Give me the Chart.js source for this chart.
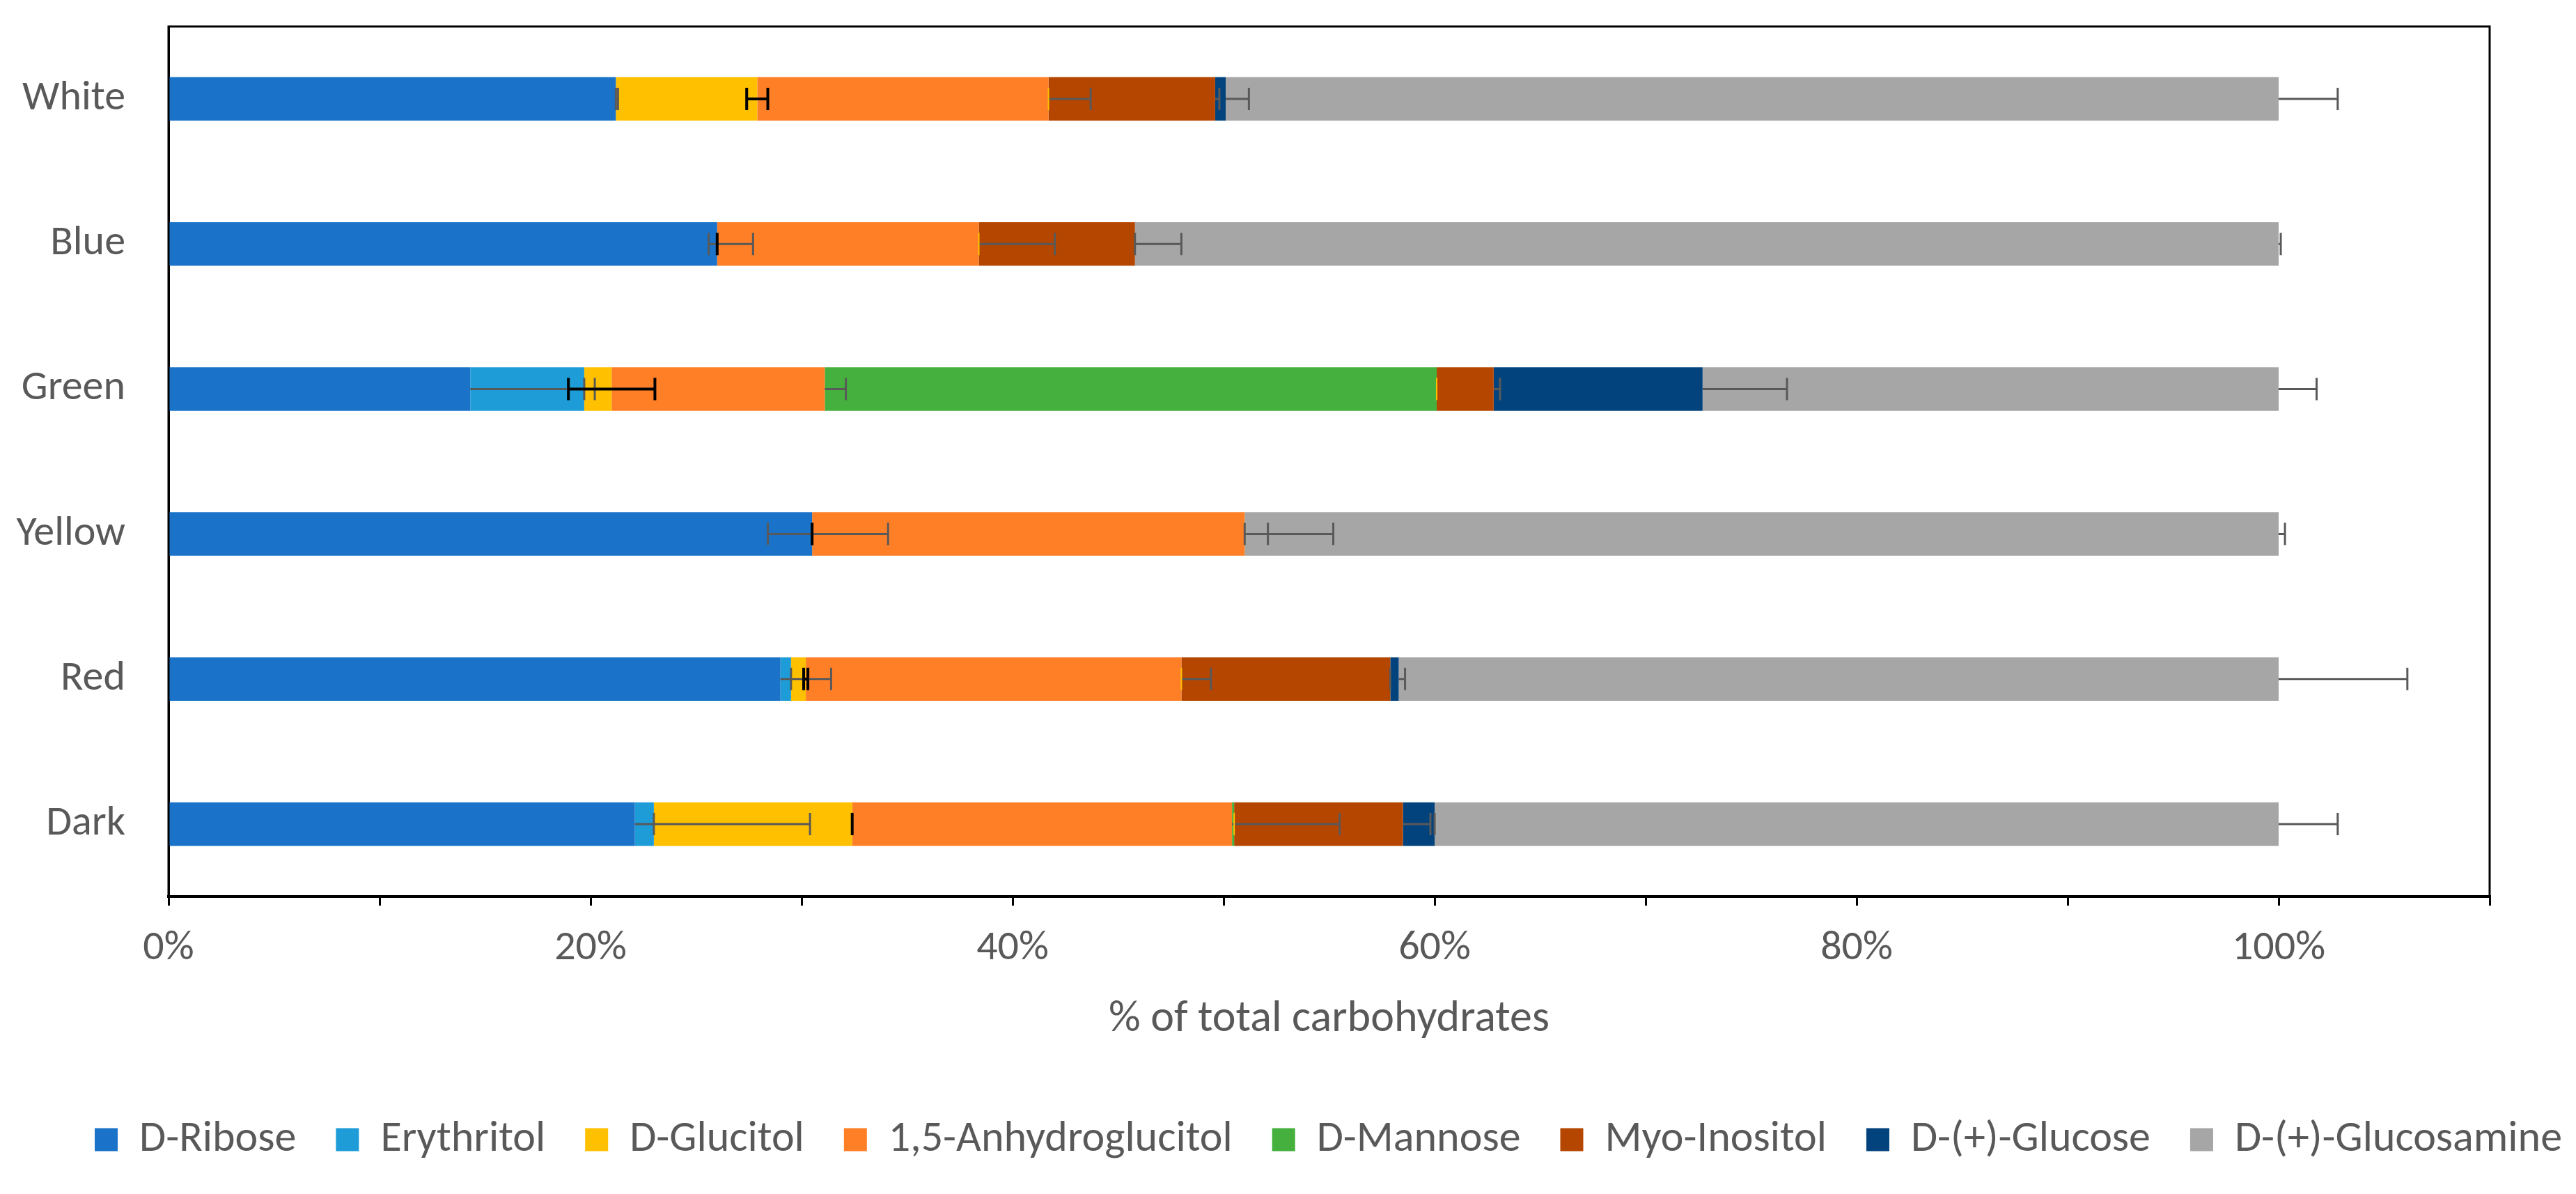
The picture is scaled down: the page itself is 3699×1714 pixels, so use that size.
<!DOCTYPE html>
<html>
<head>
<meta charset="utf-8">
<script src="https://cdn.jsdelivr.net/npm/chart.js@4"></script>
<style>
  html, body { margin: 0; padding: 0; background: #fff; }
  #wrap { width: 3699px; height: 1714px; position: relative; }
</style>
</head>
<body>
<div id="wrap"><canvas id="chart"></canvas></div>
<script>
// ============================
// Data (% of total carbohydrates)
// ============================
const categories = ["White", "Blue", "Green", "Yellow", "Red", "Dark"];

const ribose      = [21.2, 26.0, 14.3, 30.5, 29.0, 22.1];
const erythritol  = [0, 0, 5.4, 0, 0.5, 0.9];
const glucitol    = [6.7, 0, 1.3, 0, 0.7, 9.4];
const anhydro     = [13.8, 12.4, 10.1, 20.5, 17.8, 18.0];
const mannose     = [0, 0, 29.0, 0, 0, 0.1];
const myoInositol = [7.9, 7.4, 2.7, 0, 9.9, 8.0];
const glucose     = [0.5, 0, 9.9, 0, 0.4, 1.5];
const glucosamine = [49.9, 54.2, 27.3, 49.0, 41.7, 40.0];

// error bars (plus side, minus side)
const riboseErr       = [0.1, 1.7, 5.9, 3.6, 2.4, 8.3];
const riboseErrMinus  = [0, 0.4, 0, 2.1, 0, 0];
const erythritolErr   = [0, 0, 0, 0, 0, 0];
const glucitolErr     = [0.5, 0, 2.05, 0, 0.1, 0];
const anhydroErr      = [2.0, 3.6, 1.0, 4.2, 1.4, 5.1];
const mannoseErr      = [0, 0, 0, 0, 0, 0];
const myoInositolErr  = [0.2, 2.2, 0.3, 1.1, 0, 1.3];
const glucoseErr      = [1.1, 0, 4.0, 0, 0.3, 0];
const glucosamineErr  = [2.8, 0.1, 1.8, 0.3, 6.1, 2.8];

const xTicks = [0, 20, 40, 60, 80, 100];

// ============================
// Series setup
// ============================
const FONT = "Carlito, 'Liberation Sans Narrow', 'Open Sans', sans-serif";
const TEXT = "#595959";

const series = [
  { label: "D-Ribose", data: ribose, color: "#1A73C8", plus: riboseErr, minus: riboseErrMinus, errColor: "#595959", errWidth: 3 },
  { label: "Erythritol", data: erythritol, color: "#1E9CD7", plus: erythritolErr, minus: null, errColor: "#595959", errWidth: 3 },
  { label: "D-Glucitol", data: glucitol, color: "#FFC000", plus: glucitolErr, minus: glucitolErr, errColor: "#000000", errWidth: 4 },
  { label: "1,5-Anhydroglucitol", data: anhydro, color: "#FF7F27", plus: anhydroErr, minus: null, errColor: "#595959", errWidth: 3 },
  { label: "D-Mannose", data: mannose, color: "#45B03D", plus: mannoseErr, minus: null, errColor: "#FFC000", errWidth: 2 },
  { label: "Myo-Inositol", data: myoInositol, color: "#B54600", plus: myoInositolErr, minus: null, errColor: "#595959", errWidth: 3 },
  { label: "D-(+)-Glucose", data: glucose, color: "#02437D", plus: glucoseErr, minus: null, errColor: "#595959", errWidth: 3 },
  { label: "D-(+)-Glucosamine", data: glucosamine, color: "#A6A6A6", plus: glucosamineErr, minus: null, errColor: "#595959", errWidth: 3 },
];

// ============================
// Plugins
// ============================
const frame = {
  id: "frame",
  beforeDatasetsDraw(chart) {
    const { ctx, chartArea: a } = chart;
    ctx.save();
    ctx.strokeStyle = "#000";
    ctx.lineWidth = 3;
    ctx.strokeRect(a.left, a.top, a.right - a.left, a.bottom - a.top);
    ctx.restore();
  },
};

// legend is centred under the plot area, not the whole canvas
const legendShift = {
  id: "legendShift",
  afterLayout(chart) {
    const lg = chart.legend;
    if (!lg) return;
    lg.left += 58;
    lg.right += 58;
  },
};

const errorBars = {
  id: "errorBars",
  afterDatasetsDraw(chart) {
    const { ctx } = chart;
    const xs = chart.scales.x;
    const capHalf = 16;
    ctx.save();
    series.forEach((s, d) => {
      const meta = chart.getDatasetMeta(d);
      s.data.forEach((v, i) => {
        let cum = 0;
        for (let k = 0; k <= d; k++) cum += series[k].data[i];
        const y = meta.data[i].y;
        const x0 = xs.getPixelForValue(cum);
        const x1 = xs.getPixelForValue(cum + s.plus[i]);
        const xm = s.minus ? xs.getPixelForValue(cum - s.minus[i]) : x0;
        ctx.strokeStyle = s.errColor;
        ctx.lineWidth = s.errWidth;
        ctx.beginPath();
        ctx.moveTo(xm, y);
        ctx.lineTo(x1, y);
        ctx.moveTo(x1, y - capHalf);
        ctx.lineTo(x1, y + capHalf);
        if (s.minus && s.minus[i] > 0) {
          ctx.moveTo(xm, y - capHalf);
          ctx.lineTo(xm, y + capHalf);
        }
        ctx.stroke();
      });
    });
    ctx.restore();
  },
};

// ============================
// Chart
// ============================
Chart.defaults.font.family = FONT;
Chart.defaults.color = TEXT;

new Chart(document.getElementById("chart"), {
  type: "bar",
  data: {
    labels: categories,
    datasets: series.map((s) => ({
      label: s.label,
      data: s.data,
      backgroundColor: s.color,
      borderWidth: 0,
      barPercentage: 0.3,
      categoryPercentage: 1,
    })),
  },
  options: {
    indexAxis: "y",
    responsive: true,
    maintainAspectRatio: false,
    devicePixelRatio: 1,
    animation: false,
    layout: { padding: { top: 38, right: 0, left: 0, bottom: 37 } },
    plugins: {
      tooltip: { enabled: false },
      legend: {
        position: "bottom",
        labels: {
          boxWidth: 33,
          boxHeight: 33,
          padding: 57,
          color: TEXT,
          font: { size: 62 },
        },
      },
    },
    scales: {
      x: {
        stacked: true,
        min: 0,
        max: 110,
        grid: { drawOnChartArea: false, drawTicks: true, tickLength: 13, color: "#000", lineWidth: 3 },
        border: { display: true, color: "#000", width: 4 },
        ticks: {
          stepSize: 10,
          autoSkip: false,
          maxRotation: 0,
          padding: 26,
          color: TEXT,
          font: { size: 60 },
          callback: (v) => (xTicks.includes(v) ? v + "%" : ""),
        },
        title: {
          display: true,
          text: "% of total carbohydrates",
          color: TEXT,
          font: { size: 64 },
          padding: { top: 0, bottom: 46 },
        },
        afterFit: (scale) => { scale.height = 261; },
      },
      y: {
        stacked: true,
        grid: { display: false, drawTicks: true, tickLength: 62 },
        border: { display: true, color: "#000", width: 3 },
        ticks: { padding: 0, color: TEXT, font: { size: 60 } },
        afterFit: (scale) => { scale.width = 242; },
      },
      // empty right-hand box keeps the plot's right edge at 110%
      yRight: {
        type: "category",
        position: "right",
        grid: { display: false, drawTicks: false },
        border: { display: false },
        ticks: { display: false },
        afterFit: (scale) => { scale.width = 124; },
      },
    },
  },
  plugins: [frame, legendShift, errorBars],
});
</script>
</body>
</html>
